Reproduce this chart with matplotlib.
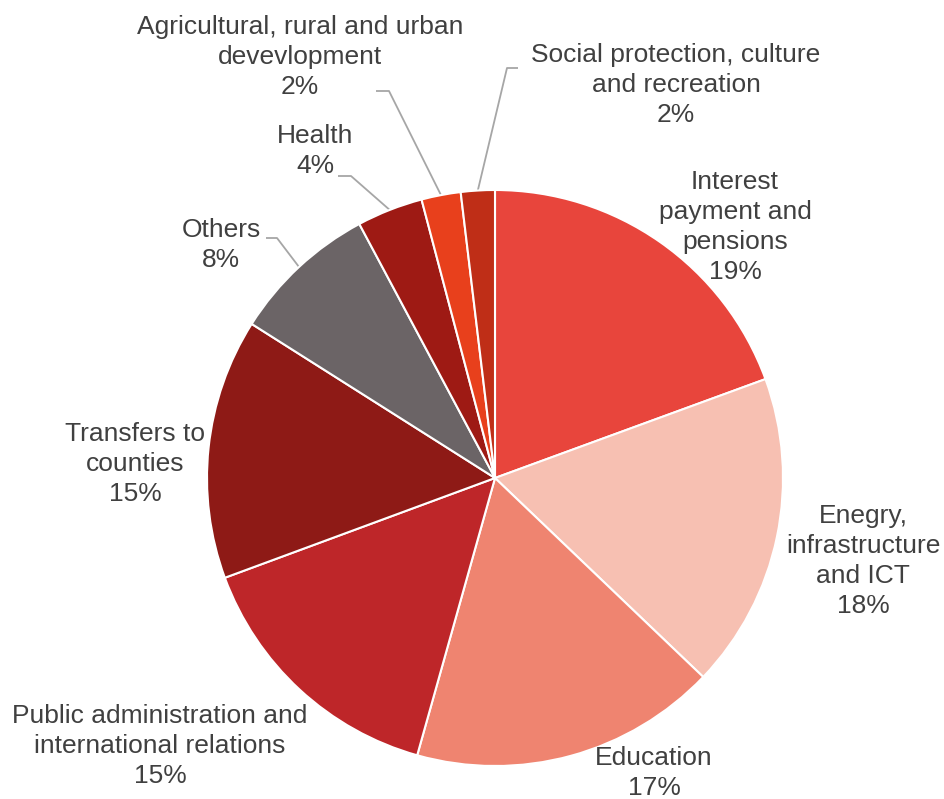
import matplotlib
matplotlib.use("Agg")
import matplotlib.pyplot as plt
import numpy as np

categories = [
    "Interest\npayment and\npensions",
    "Enegry,\ninfrastructure\nand ICT",
    "Education",
    "Public administration and\ninternational relations",
    "Transfers to\ncounties",
    "Others",
    "Health",
    "Agricultural, rural and urban\ndevevlopment",
    "Social protection, culture\nand recreation",
]
values = [19.4, 17.7, 17.2, 15.0, 14.6, 8.2, 3.7, 2.2, 1.9]
colors = ["#E8453C", "#F7C0B2", "#EF8470", "#BE2629", "#8E1A16",
          "#6B6466", "#9E1A14", "#E8401C", "#BF2E17"]

W, H = 944, 799
CX, CY, R = 495, 478, 288

fig = plt.figure(figsize=(W / 100, H / 100), dpi=100)
ax = fig.add_axes([0, 0, 1, 1])
wedges, _ = ax.pie(values, colors=colors, startangle=90, counterclock=False,
                   radius=1.0,
                   wedgeprops=dict(edgecolor="white", linewidth=1.5))
ax.set_xlim(-CX / R, (W - CX) / R)
ax.set_ylim(-(H - CY) / R, CY / R)
ax.set_aspect("equal")
ax.axis("off")


def px(x, y):
    return (x - CX) / R, (CY - y) / R


# label centre positions (pixel coords of text block centre)
label_pos = [
    (735, 227), (863, 561), (654, 773), (160, 746), (135, 464),
    (221, 245), (315, 151), (300, 57), (676, 85),
]
total = sum(values)
for i, (lab, v) in enumerate(zip(categories, values)):
    txt = f"{lab}\n{round(v / total * 100):.0f}%"
    x, y = px(*label_pos[i])
    ax.text(x, y, txt, ha="center", va="center", fontsize=19,
            family=["Liberation Sans", "DejaVu Sans"], color="#404040",
            linespacing=1.31)

# leader lines: (index, start pixel, elbow pixel)
leaders = [
    (5, (266, 238), (277, 238)),
    (6, (338, 176), (351, 176)),
    (7, (376, 91), (389, 91)),
    (8, (518, 68), (507, 68)),
]
cum = np.cumsum([0] + values)
for idx, s, e in leaders:
    mid = (cum[idx] + cum[idx + 1]) / 2 / total * 360
    th = np.deg2rad(90 - mid)
    ex, ey = np.cos(th) * 1.0, np.sin(th) * 1.0
    sx, sy = px(*s)
    bx, by = px(*e)
    ax.plot([sx, bx, ex], [sy, by, ey], color="#A6A6A6", linewidth=1.3,
            solid_capstyle="butt", zorder=0)

fig.savefig("out.png", dpi=100)
